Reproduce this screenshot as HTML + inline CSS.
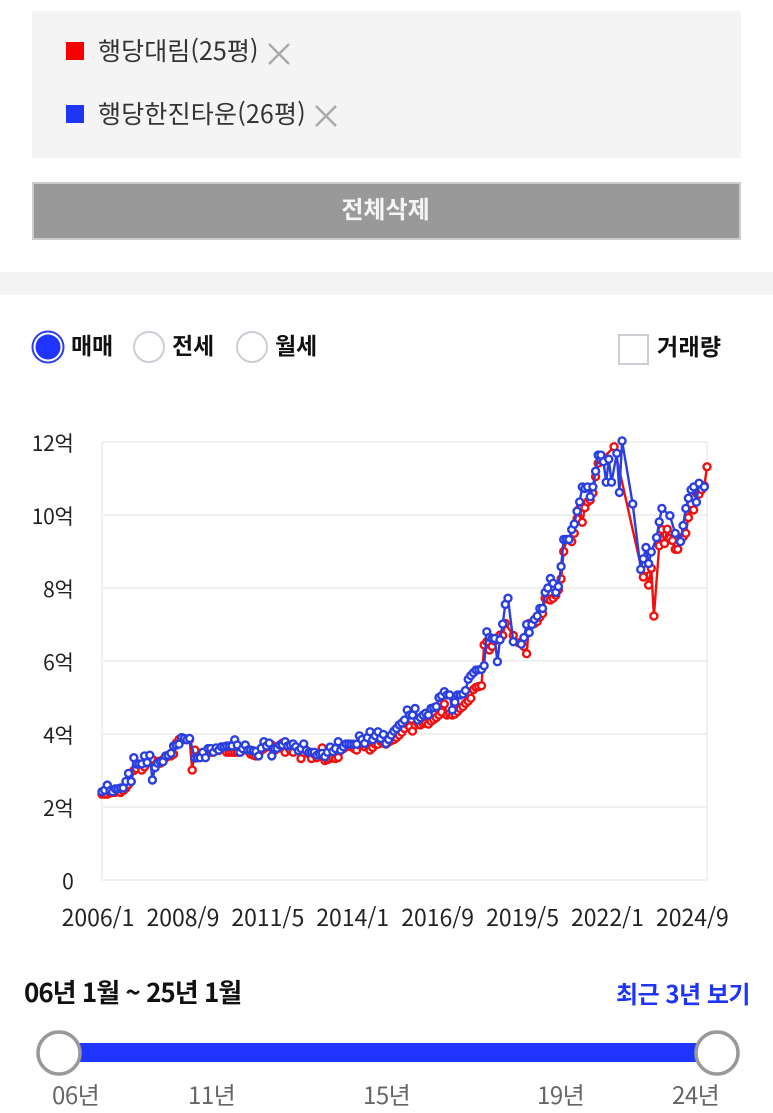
<!DOCTYPE html>
<html lang="ko">
<head>
<meta charset="utf-8">
<title>행당대림 · 행당한진타운 매매 시세</title>
<style>
html,body{margin:0;padding:0;background:#fff;}
body{position:relative;width:773px;height:1113px;overflow:hidden;font-family:"Liberation Sans","Noto Sans CJK KR",sans-serif;color:#222;filter:blur(0.35px);}
.abs{position:absolute;white-space:nowrap;line-height:1;}
.k{font-family:"Noto Sans CJK KR","Liberation Sans",sans-serif;}
.b{font-weight:700;}
svg{position:absolute;left:0;top:0;}
</style>
</head>
<body>

<div class="abs" style="left:32px;top:11px;width:709px;height:147px;background:#f4f4f4;"></div>
<div class="abs" style="left:66px;top:42px;width:18px;height:18px;background:#f60000;"></div>
<div class="abs k" style="left:98px;top:38px;font-size:25px;letter-spacing:0.1px;color:#333;">행당대림(25평)</div>
<svg style="left:266px;top:41px;" width="26" height="26"><path d="M3 3L23 23M23 3L3 23" stroke="#aaa" stroke-width="2.4" fill="none"/></svg>
<div class="abs" style="left:66px;top:105px;width:18px;height:18px;background:#1f35f5;"></div>
<div class="abs k" style="left:98px;top:101px;font-size:25px;letter-spacing:0.2px;color:#333;">행당한진타운(26평)</div>
<svg style="left:313px;top:103px;" width="26" height="26"><path d="M3 3L23 23M23 3L3 23" stroke="#aaa" stroke-width="2.4" fill="none"/></svg>

<div class="abs" style="left:32px;top:182px;width:705px;height:54px;background:#999;border:2px solid #ccc;"></div>
<div class="abs k b" style="left:31px;top:196px;width:709px;text-align:center;font-size:24px;color:#f5f5f5;">전체삭제</div>

<div class="abs" style="left:0;top:272px;width:773px;height:23px;background:#f4f4f4;"></div>

<svg style="left:0;top:325px;" width="300" height="44">
  <circle cx="48" cy="22" r="15.5" fill="#fff" stroke="#2a3fe8" stroke-width="2"/>
  <circle cx="48" cy="22" r="12.5" fill="#1f35ff"/>
  <circle cx="149" cy="22" r="15" fill="#fff" stroke="#ccced6" stroke-width="2"/>
  <circle cx="252" cy="22" r="15" fill="#fff" stroke="#ccced6" stroke-width="2"/>
</svg>
<div class="abs k b" style="left:71px;top:333px;font-size:23px;letter-spacing:-0.2px;color:#111;">매매</div>
<div class="abs k b" style="left:172px;top:333px;font-size:23px;letter-spacing:-0.2px;color:#111;">전세</div>
<div class="abs k b" style="left:275px;top:333px;font-size:23px;letter-spacing:-0.2px;color:#111;">월세</div>
<div class="abs" style="left:618px;top:334px;width:27px;height:27px;background:#fff;border:2px solid #ccced6;"></div>
<div class="abs k b" style="left:657px;top:334px;font-size:23px;letter-spacing:0.3px;color:#111;">거래량</div>

<svg id="chart" style="left:0;top:420px;" width="773" height="520" viewBox="0 420 773 520"></svg>

<div class="abs k b" style="left:24px;top:979px;font-size:26px;letter-spacing:-1px;color:#111;">06년 1월 ~ 25년 1월</div>
<div class="abs k b" style="left:616px;top:981px;font-size:24px;letter-spacing:-0.5px;color:#1f35f5;">최근 3년 보기</div>

<svg style="left:0;top:1025px;" width="773" height="56">
  <rect x="60" y="18" width="656" height="19" fill="#1f35ff"/>
  <circle cx="59" cy="28" r="21" fill="#fff" stroke="#999" stroke-width="3.5"/>
  <circle cx="717" cy="28" r="21" fill="#fff" stroke="#999" stroke-width="3.5"/>
</svg>
<div class="abs k" style="left:52px;top:1082px;font-size:24px;letter-spacing:-0.5px;color:#666;">06년</div>
<div class="abs k" style="left:188px;top:1082px;font-size:24px;letter-spacing:-0.5px;color:#666;">11년</div>
<div class="abs k" style="left:363px;top:1082px;font-size:24px;letter-spacing:-0.5px;color:#666;">15년</div>
<div class="abs k" style="left:537px;top:1082px;font-size:24px;letter-spacing:-0.5px;color:#666;">19년</div>
<div class="abs k" style="left:672px;top:1082px;font-size:24px;letter-spacing:-0.5px;color:#666;">24년</div>

<script>
const startYear = 2006;
const monthCount = 229;
const xTickLabels = ['2006/1','2008/9','2011/5','2014/1','2016/9','2019/5','2022/1','2024/9'];
const yTickValues = [0,2,4,6,8,10,12];
const yTickLabels = ['0','2억','4억','6억','8억','10억','12억'];
const _ = null;
const seriesDaerim = [
2.35,2.35,2.35,2.38,2.40,2.40,2.45,2.40,2.45,2.52,2.62,2.70,
3.00,3.05,3.15,3.01,3.10,3.20,3.22,3.30,3.15,3.25,3.20,3.30,
3.35,3.42,3.40,3.45,3.75,3.85,3.85,3.85,3.85,3.85,3.01,3.56,
3.35,3.40,3.42,3.42,3.50,3.50,3.55,3.55,3.55,3.60,3.60,3.50,
3.50,3.50,3.50,3.50,3.50,3.55,3.60,3.55,3.45,3.42,3.40,3.45,
3.55,3.60,3.70,3.65,3.70,3.55,3.60,3.62,3.75,3.50,3.65,3.55,
3.50,3.65,3.60,3.33,3.50,3.55,3.45,3.33,3.45,3.35,3.50,3.62,
3.27,3.30,3.33,3.35,3.33,3.36,3.55,3.60,3.65,3.70,3.65,3.60,
3.56,3.70,3.72,3.65,3.70,3.56,3.63,3.72,3.72,3.80,3.75,3.72,
3.78,3.82,3.85,3.90,3.97,4.05,4.15,4.26,4.20,4.08,4.25,4.30,
4.25,4.29,4.30,4.27,4.35,4.40,4.45,4.52,4.60,4.82,4.52,4.55,
4.52,4.55,4.62,4.70,4.75,4.84,4.90,4.98,5.22,5.28,5.30,5.32,
6.44,6.53,6.30,6.40,6.55,6.60,6.71,6.70,7.03,_,_,6.70,
_,6.50,_,6.40,6.20,7.03,7.05,7.03,7.08,7.20,7.30,7.72,
7.70,7.67,7.72,7.80,7.95,8.25,9.00,9.33,9.33,9.27,9.50,9.90,
10.18,9.80,10.20,10.36,10.41,10.60,11.05,11.42,11.50,_,_,_,
_,11.87,_,_,_,_,_,_,_,_,_,_,
8.30,8.50,8.08,8.54,7.23,_,9.16,9.60,9.22,9.61,9.36,9.30,
9.06,9.06,9.27,9.40,9.50,9.93,10.30,10.14,10.60,10.57,10.70,10.80,
11.32];
const seriesHanjin = [
2.42,2.46,2.60,2.45,2.42,2.50,2.50,2.52,2.52,2.70,2.92,2.70,
3.35,3.18,3.18,3.18,3.40,3.22,3.42,2.74,3.08,3.20,3.24,3.24,
3.40,3.42,3.47,3.67,3.70,3.72,3.90,3.88,3.84,3.88,_,3.34,
3.35,3.35,3.50,3.35,3.60,3.60,3.50,3.62,3.56,3.65,3.65,3.67,
3.67,3.67,3.84,3.70,3.50,3.60,3.70,3.56,3.56,3.54,3.52,3.40,
3.61,3.79,3.67,3.75,3.40,3.60,3.61,3.70,3.70,3.79,3.67,3.70,
3.73,3.65,3.54,3.60,3.73,3.55,3.50,3.50,3.50,3.42,3.45,3.47,
3.38,3.50,3.64,3.52,3.60,3.79,3.56,3.65,3.73,3.73,3.72,3.72,
3.72,3.95,3.85,3.74,3.90,4.06,3.84,3.95,4.06,3.88,3.99,3.74,
3.85,3.97,4.08,4.15,4.25,4.30,4.38,4.66,4.52,4.52,4.70,4.38,
4.45,4.52,4.57,4.52,4.70,4.72,4.75,5.00,5.05,5.16,5.07,5.07,
4.66,4.87,5.07,5.07,5.10,5.19,5.50,5.60,5.68,5.75,5.76,5.77,
5.87,6.80,6.65,6.62,6.62,5.98,6.58,7.01,7.55,7.72,_,6.53,
_,_,6.46,6.64,7.00,6.78,7.00,7.14,7.23,7.44,7.44,7.88,
8.00,8.26,8.13,7.88,8.04,8.59,9.33,9.33,9.33,9.60,9.75,10.10,
10.36,10.77,10.73,10.77,10.50,10.77,11.20,11.64,11.64,11.46,10.90,11.53,
10.90,_,11.69,10.62,12.03,_,_,_,10.30,_,_,8.51,
8.80,9.11,8.67,8.99,_,9.38,9.81,10.18,_,_,9.98,_,
9.50,_,9.27,9.71,10.18,10.46,10.69,10.77,10.35,10.87,_,10.77,
_];

const categories = [];
for (let m = 0; m < monthCount; m++) {
  categories.push((startYear + Math.floor(m / 12)) + '/' + (m % 12 + 1));
}

const NS = 'http://www.w3.org/2000/svg';
const chart = document.getElementById('chart');
const plotLeft = 102, plotRight = 707, plotTop = 442, plotBottom = 880;
const yMax = yTickValues[yTickValues.length - 1];

function xScale(index) {
  return plotLeft + (plotRight - plotLeft) * index / (categories.length - 1);
}
function yScale(value) {
  return plotBottom - (plotBottom - plotTop) * value / yMax;
}
function svgEl(tag) {
  return document.createElementNS(NS, tag);
}

yTickValues.forEach(function (v, k) {
  const grid = svgEl('line');
  
  
  grid.setAttribute('x1', plotLeft);
  grid.setAttribute('x2', plotRight);
  grid.setAttribute('y1', yScale(v));
  grid.setAttribute('y2', yScale(v));
  grid.setAttribute('stroke', '#f0f0f0');
  grid.setAttribute('stroke-width', '2');
  chart.appendChild(grid);

  const label = svgEl('text');
  
  
  label.setAttribute('x', 73.5);
  label.setAttribute('y', yScale(v) + 9);
  label.setAttribute('text-anchor', 'end');
  label.setAttribute('font-size', '21');
  label.setAttribute('letter-spacing', '-0.3');
  label.setAttribute('fill', '#222');
  label.setAttribute('font-family', '"Noto Sans CJK KR","Liberation Sans",sans-serif');
  label.textContent = yTickLabels[k];
  chart.appendChild(label);
});

[plotLeft, plotRight].forEach(function (px) {
  const edge = svgEl('line');
  
  
  edge.setAttribute('x1', px);
  edge.setAttribute('x2', px);
  edge.setAttribute('y1', plotTop);
  edge.setAttribute('y2', plotBottom);
  edge.setAttribute('stroke', '#f0f0f0');
  edge.setAttribute('stroke-width', '2');
  chart.appendChild(edge);
});

xTickLabels.forEach(function (text) {
  const label = svgEl('text');
  
  
  label.setAttribute('x', xScale(categories.indexOf(text)) - 4);
  label.setAttribute('y', 926);
  label.setAttribute('text-anchor', 'middle');
  label.setAttribute('font-size', '23');
  label.setAttribute('fill', '#222');
  label.setAttribute('font-family', '"Noto Sans CJK KR","Liberation Sans",sans-serif');
  label.textContent = text;
  chart.appendChild(label);
});

function drawSeries(values, color, name) {
  const points = [];
  values.forEach(function (v, i) {
    if (v !== null) points.push([xScale(i), yScale(v)]);
  });
  const line = svgEl('polyline');
  
  
  line.setAttribute('points', points.map(function (p) { return p[0].toFixed(1) + ',' + p[1].toFixed(1); }).join(' '));
  line.setAttribute('fill', 'none');
  line.setAttribute('stroke', color);
  line.setAttribute('stroke-width', '2.4');
  chart.appendChild(line);
  points.forEach(function (p) {
    const dot = svgEl('circle');
    
    
    dot.setAttribute('cx', p[0].toFixed(1));
    dot.setAttribute('cy', p[1].toFixed(1));
    dot.setAttribute('r', '3.5');
    dot.setAttribute('fill', '#fff');
    dot.setAttribute('stroke', color);
    dot.setAttribute('stroke-width', '2.4');
    chart.appendChild(dot);
  });
}

drawSeries(seriesDaerim, '#f01010', 'daerim');
drawSeries(seriesHanjin, '#2a3fe0', 'hanjin');
</script>
</body>
</html>
